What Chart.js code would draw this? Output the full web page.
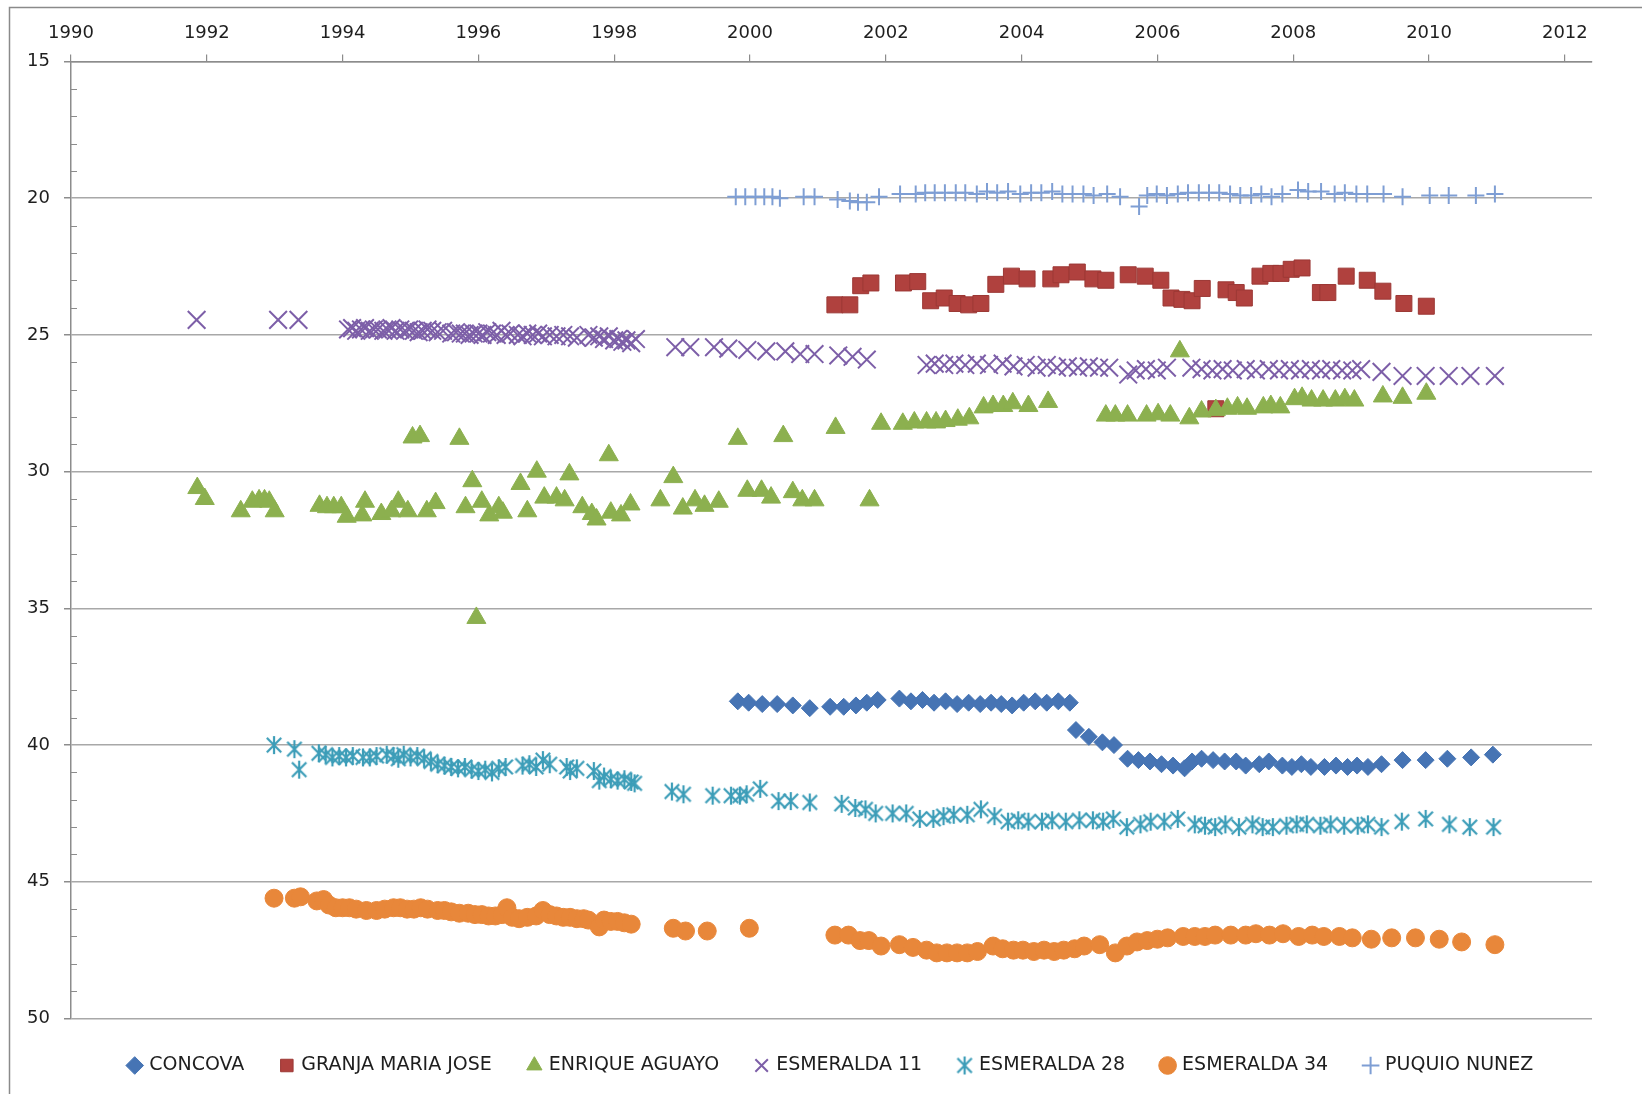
<!DOCTYPE html>
<html>
<head>
<meta charset="utf-8">
<title>Niveles de pozos</title>
<script src="https://cdn.jsdelivr.net/npm/chart.js@4.4.1/dist/chart.umd.min.js"></script>
<style>
  html, body { margin: 0; padding: 0; background: #fff; overflow: hidden; }
  canvas { display: block; }
</style>
</head>
<body>
<canvas id="levels" width="1642" height="1094"></canvas>
<script>
// [year, level] readings per well
const concova = [
  [1999.82, 38.4], [1999.98, 38.45], [2000.18, 38.5], [2000.4, 38.5], [2000.63, 38.55], [2000.88, 38.65],
  [2001.18, 38.6], [2001.38, 38.6], [2001.56, 38.55], [2001.72, 38.45], [2001.88, 38.35], [2002.2, 38.3],
  [2002.37, 38.4], [2002.54, 38.35], [2002.71, 38.45], [2002.88, 38.4], [2003.05, 38.5], [2003.22, 38.45],
  [2003.39, 38.5], [2003.55, 38.45], [2003.7, 38.5], [2003.86, 38.55], [2004.03, 38.45], [2004.2, 38.4],
  [2004.37, 38.45], [2004.54, 38.4], [2004.71, 38.45], [2004.8, 39.45], [2004.99, 39.7], [2005.19, 39.9],
  [2005.36, 40.0], [2005.56, 40.5], [2005.72, 40.55], [2005.89, 40.6], [2006.06, 40.7], [2006.23, 40.75],
  [2006.4, 40.85], [2006.51, 40.6], [2006.65, 40.5], [2006.82, 40.55], [2006.99, 40.6], [2007.16, 40.6],
  [2007.3, 40.75], [2007.5, 40.7], [2007.64, 40.6], [2007.84, 40.75], [2007.98, 40.8], [2008.12, 40.7],
  [2008.26, 40.8], [2008.46, 40.8], [2008.63, 40.75], [2008.8, 40.8], [2008.94, 40.75], [2009.1, 40.8],
  [2009.3, 40.7], [2009.61, 40.55], [2009.95, 40.55], [2010.27, 40.5], [2010.62, 40.45], [2010.94, 40.35]
];

const granjaMariaJose = [
  [2001.25, 23.9], [2001.47, 23.9], [2001.63, 23.2], [2001.78, 23.1], [2002.26, 23.1], [2002.47, 23.05],
  [2002.66, 23.75], [2002.86, 23.65], [2003.05, 23.85], [2003.22, 23.9], [2003.4, 23.85], [2003.62, 23.15],
  [2003.85, 22.85], [2004.08, 22.95], [2004.43, 22.95], [2004.58, 22.8], [2004.82, 22.7], [2005.05, 22.95],
  [2005.24, 23.0], [2005.57, 22.8], [2005.82, 22.85], [2006.05, 23.0], [2006.2, 23.65], [2006.36, 23.7],
  [2006.51, 23.75], [2006.66, 23.3], [2006.86, 27.7], [2007.01, 23.35], [2007.16, 23.45], [2007.28, 23.65],
  [2007.51, 22.85], [2007.67, 22.75], [2007.82, 22.75], [2007.97, 22.6], [2008.13, 22.55], [2008.4, 23.45],
  [2008.51, 23.45], [2008.78, 22.85], [2009.09, 23.0], [2009.32, 23.4], [2009.63, 23.85], [2009.96, 23.95]
];

const enriqueAguayo = [
  [1991.86, 30.6], [1991.97, 31.0], [1992.5, 31.45], [1992.67, 31.1], [1992.77, 31.05], [1992.85, 31.05],
  [1992.92, 31.1], [1993.0, 31.45], [1993.66, 31.25], [1993.77, 31.3], [1993.87, 31.3], [1993.98, 31.3],
  [1994.06, 31.65], [1994.29, 31.6], [1994.33, 31.1], [1994.57, 31.55], [1994.72, 31.45], [1994.82, 31.1],
  [1994.96, 31.45], [1995.03, 28.75], [1995.14, 28.7], [1995.24, 31.45], [1995.37, 31.15], [1995.72, 28.8],
  [1995.81, 31.3], [1995.91, 30.35], [1995.97, 35.35], [1996.05, 31.1], [1996.16, 31.6], [1996.3, 31.3],
  [1996.36, 31.5], [1996.62, 30.45], [1996.72, 31.45], [1996.86, 30.0], [1996.97, 30.95], [1997.15, 30.95],
  [1997.27, 31.05], [1997.34, 30.1], [1997.53, 31.3], [1997.67, 31.55], [1997.74, 31.75], [1997.92, 29.4],
  [1997.95, 31.5], [1998.1, 31.6], [1998.24, 31.2], [1998.68, 31.05], [1998.87, 30.2], [1999.01, 31.35],
  [1999.19, 31.05], [1999.33, 31.25], [1999.54, 31.1], [1999.82, 28.8], [1999.96, 30.7], [2000.17, 30.7],
  [2000.31, 30.95], [2000.49, 28.7], [2000.63, 30.75], [2000.77, 31.05], [2000.95, 31.05], [2001.26, 28.4],
  [2001.76, 31.05], [2001.93, 28.25], [2002.25, 28.25], [2002.42, 28.2], [2002.6, 28.2], [2002.74, 28.2],
  [2002.88, 28.15], [2003.06, 28.1], [2003.23, 28.05], [2003.44, 27.65], [2003.58, 27.6], [2003.73, 27.6],
  [2003.87, 27.5], [2004.1, 27.6], [2004.39, 27.45], [2005.24, 27.95], [2005.38, 27.95], [2005.56, 27.95],
  [2005.84, 27.95], [2006.01, 27.9], [2006.19, 27.95], [2006.33, 25.6], [2006.47, 28.05], [2006.65, 27.8],
  [2006.86, 27.75], [2007.03, 27.7], [2007.18, 27.65], [2007.32, 27.7], [2007.56, 27.65], [2007.67, 27.6],
  [2007.81, 27.65], [2008.02, 27.35], [2008.13, 27.3], [2008.27, 27.4], [2008.44, 27.4], [2008.62, 27.4],
  [2008.76, 27.35], [2008.9, 27.4], [2009.32, 27.25], [2009.61, 27.3], [2009.96, 27.15]
];

const esmeralda11 = [
  [1991.85, 24.45], [1993.05, 24.45], [1993.35, 24.45],
  [1994.08, 24.8], [1994.14, 24.75], [1994.2, 24.85], [1994.27, 24.8], [1994.33, 24.75], [1994.4, 24.85],
  [1994.46, 24.8], [1994.52, 24.8], [1994.6, 24.85], [1994.66, 24.8], [1994.72, 24.75], [1994.78, 24.85],
  [1994.85, 24.8], [1994.92, 24.85], [1994.98, 24.8], [1995.05, 24.85], [1995.12, 24.9], [1995.18, 24.85],
  [1995.25, 24.8], [1995.32, 24.85], [1995.4, 24.9], [1995.48, 24.85], [1995.6, 24.95], [1995.67, 24.9],
  [1995.74, 24.95], [1995.8, 24.95], [1995.87, 25.0], [1995.93, 24.95], [1996.0, 24.95], [1996.06, 25.0],
  [1996.13, 24.9], [1996.2, 24.95], [1996.27, 25.0], [1996.34, 24.85], [1996.4, 25.0], [1996.47, 24.95],
  [1996.58, 25.0], [1996.65, 25.05], [1996.72, 24.95], [1996.8, 25.0], [1996.88, 24.95], [1996.95, 25.05],
  [1997.05, 25.0], [1997.15, 25.05], [1997.25, 25.0], [1997.35, 25.05], [1997.45, 25.1], [1997.62, 25.0],
  [1997.7, 25.1], [1997.78, 25.05], [1997.85, 25.15], [1997.92, 25.05], [1998.0, 25.2], [1998.06, 25.15],
  [1998.12, 25.25], [1998.18, 25.2], [1998.25, 25.3], [1998.32, 25.15],
  [1998.9, 25.45], [1999.12, 25.45], [1999.47, 25.45], [1999.68, 25.5], [1999.96, 25.55], [2000.24, 25.6],
  [2000.52, 25.6], [2000.74, 25.7], [2000.95, 25.7], [2001.3, 25.75], [2001.51, 25.8], [2001.72, 25.9],
  [2002.6, 26.1], [2002.72, 26.05], [2002.86, 26.1], [2003.01, 26.05], [2003.17, 26.1], [2003.34, 26.05],
  [2003.52, 26.1], [2003.72, 26.05], [2003.88, 26.15], [2004.06, 26.1], [2004.22, 26.2], [2004.37, 26.1],
  [2004.52, 26.2], [2004.68, 26.15], [2004.83, 26.2], [2004.99, 26.15], [2005.14, 26.2], [2005.29, 26.2],
  [2005.57, 26.45], [2005.68, 26.3], [2005.83, 26.25], [2005.99, 26.3], [2006.14, 26.2], [2006.5, 26.2],
  [2006.65, 26.25], [2006.81, 26.3], [2006.96, 26.25], [2007.11, 26.3], [2007.3, 26.25], [2007.45, 26.3],
  [2007.64, 26.25], [2007.79, 26.3], [2007.95, 26.25], [2008.1, 26.3], [2008.26, 26.25], [2008.41, 26.3],
  [2008.56, 26.25], [2008.72, 26.3], [2008.87, 26.3], [2009.0, 26.25], [2009.3, 26.35], [2009.61, 26.5],
  [2009.95, 26.5], [2010.29, 26.5], [2010.61, 26.5], [2010.97, 26.5]
];

const esmeralda28 = [
  [1992.99, 40.0], [1993.29, 40.15], [1993.36, 40.9], [1993.65, 40.3], [1993.75, 40.35], [1993.85, 40.45],
  [1993.95, 40.4], [1994.05, 40.45], [1994.15, 40.4], [1994.3, 40.45], [1994.4, 40.45], [1994.5, 40.4],
  [1994.65, 40.35], [1994.75, 40.4], [1994.82, 40.5], [1994.9, 40.35], [1995.0, 40.45], [1995.1, 40.4],
  [1995.2, 40.5], [1995.3, 40.6], [1995.4, 40.7], [1995.5, 40.75], [1995.6, 40.8], [1995.7, 40.85],
  [1995.8, 40.8], [1995.9, 40.9], [1996.0, 40.95], [1996.1, 40.9], [1996.2, 41.0], [1996.3, 40.85],
  [1996.4, 40.8], [1996.65, 40.75], [1996.75, 40.7], [1996.85, 40.8], [1996.95, 40.55], [1997.05, 40.7],
  [1997.3, 40.8], [1997.35, 40.95], [1997.45, 40.85], [1997.7, 40.95], [1997.78, 41.3], [1997.85, 41.15],
  [1997.95, 41.25], [1998.05, 41.3], [1998.15, 41.25], [1998.25, 41.35], [1998.3, 41.4], [1998.85, 41.7],
  [1999.02, 41.8], [1999.45, 41.85], [1999.72, 41.85], [1999.85, 41.85], [1999.95, 41.8], [2000.15, 41.6],
  [2000.42, 42.05], [2000.6, 42.05], [2000.88, 42.1], [2001.35, 42.15], [2001.55, 42.3], [2001.7, 42.35],
  [2001.85, 42.5], [2002.1, 42.5], [2002.3, 42.5], [2002.5, 42.7], [2002.7, 42.7], [2002.85, 42.6],
  [2003.0, 42.55], [2003.2, 42.55], [2003.4, 42.35], [2003.6, 42.6], [2003.8, 42.8], [2003.95, 42.75],
  [2004.1, 42.8], [2004.3, 42.8], [2004.45, 42.75], [2004.65, 42.8], [2004.85, 42.75], [2005.05, 42.75],
  [2005.2, 42.8], [2005.35, 42.7], [2005.55, 43.0], [2005.75, 42.9], [2005.9, 42.8], [2006.1, 42.8],
  [2006.3, 42.7], [2006.55, 42.9], [2006.7, 42.95], [2006.85, 43.0], [2007.0, 42.9], [2007.2, 43.0],
  [2007.4, 42.9], [2007.55, 43.0], [2007.7, 43.0], [2007.9, 42.95], [2008.05, 42.9], [2008.2, 42.9],
  [2008.4, 42.95], [2008.55, 42.9], [2008.75, 42.95], [2008.95, 42.95], [2009.1, 42.9], [2009.3, 43.0],
  [2009.6, 42.8], [2009.95, 42.7], [2010.3, 42.9], [2010.6, 43.0], [2010.95, 43.0]
];

const esmeralda34 = [
  [1992.99, 45.6], [1993.29, 45.6], [1993.38, 45.55], [1993.62, 45.7], [1993.72, 45.65], [1993.8, 45.85],
  [1993.9, 45.95], [1994.0, 45.95], [1994.1, 45.95], [1994.2, 46.0], [1994.35, 46.05], [1994.5, 46.05],
  [1994.62, 46.0], [1994.75, 45.95], [1994.85, 45.95], [1994.95, 46.0], [1995.05, 46.0], [1995.15, 45.95],
  [1995.25, 46.0], [1995.4, 46.05], [1995.5, 46.05], [1995.6, 46.1], [1995.72, 46.15], [1995.85, 46.15],
  [1995.95, 46.2], [1996.05, 46.2], [1996.15, 46.25], [1996.25, 46.25], [1996.35, 46.2], [1996.42, 45.95],
  [1996.5, 46.3], [1996.6, 46.35], [1996.72, 46.3], [1996.85, 46.25], [1996.95, 46.05], [1997.05, 46.2],
  [1997.15, 46.25], [1997.25, 46.3], [1997.35, 46.3], [1997.45, 46.35], [1997.55, 46.35], [1997.62, 46.4],
  [1997.78, 46.65], [1997.85, 46.4], [1997.95, 46.45], [1998.05, 46.45], [1998.15, 46.5], [1998.25, 46.55],
  [1998.87, 46.7], [1999.05, 46.8], [1999.37, 46.8], [1999.99, 46.7], [2001.25, 46.95], [2001.45, 46.95],
  [2001.62, 47.15], [2001.75, 47.15], [2001.93, 47.35], [2002.2, 47.3], [2002.4, 47.4], [2002.6, 47.5],
  [2002.75, 47.6], [2002.9, 47.6], [2003.05, 47.6], [2003.2, 47.6], [2003.35, 47.55], [2003.58, 47.35],
  [2003.72, 47.45], [2003.88, 47.5], [2004.02, 47.5], [2004.18, 47.55], [2004.33, 47.5], [2004.48, 47.55],
  [2004.62, 47.5], [2004.78, 47.45], [2004.92, 47.35], [2005.15, 47.3], [2005.38, 47.6], [2005.55, 47.35],
  [2005.7, 47.2], [2005.85, 47.15], [2006.0, 47.1], [2006.15, 47.05], [2006.38, 47.0], [2006.55, 47.0],
  [2006.7, 47.0], [2006.85, 46.95], [2007.08, 46.95], [2007.3, 46.95], [2007.45, 46.9], [2007.65, 46.95],
  [2007.85, 46.9], [2008.08, 47.0], [2008.28, 46.95], [2008.45, 47.0], [2008.68, 47.0], [2008.87, 47.05],
  [2009.15, 47.1], [2009.45, 47.05], [2009.8, 47.05], [2010.15, 47.1], [2010.48, 47.2], [2010.97, 47.3]
];

const puquioNunez = [
  [1999.79, 19.95], [1999.93, 19.95], [2000.08, 19.95], [2000.21, 19.95], [2000.33, 19.95], [2000.44, 20.0],
  [2000.79, 19.95], [2000.95, 19.95], [2001.29, 20.05], [2001.47, 20.1], [2001.59, 20.15], [2001.72, 20.15],
  [2001.9, 19.95], [2002.21, 19.85], [2002.44, 19.85], [2002.58, 19.8], [2002.72, 19.8], [2002.87, 19.8],
  [2003.03, 19.8], [2003.17, 19.8], [2003.34, 19.85], [2003.49, 19.75], [2003.64, 19.8], [2003.8, 19.75],
  [2003.98, 19.85], [2004.14, 19.8], [2004.29, 19.8], [2004.45, 19.75], [2004.6, 19.85], [2004.75, 19.85],
  [2004.91, 19.85], [2005.06, 19.9], [2005.26, 19.85], [2005.45, 19.95], [2005.73, 20.3], [2005.85, 19.9],
  [2005.99, 19.85], [2006.14, 19.9], [2006.3, 19.85], [2006.45, 19.8], [2006.61, 19.8], [2006.76, 19.8],
  [2006.91, 19.8], [2007.07, 19.85], [2007.22, 19.9], [2007.38, 19.9], [2007.53, 19.85], [2007.68, 19.95],
  [2007.84, 19.85], [2008.07, 19.7], [2008.22, 19.75], [2008.41, 19.75], [2008.61, 19.85], [2008.76, 19.8],
  [2008.93, 19.85], [2009.09, 19.85], [2009.33, 19.85], [2009.61, 19.95], [2010.01, 19.9], [2010.29, 19.9],
  [2010.69, 19.9], [2010.97, 19.85]
];

const wellNames = ['CONCOVA', 'GRANJA MARIA JOSE', 'ENRIQUE AGUAYO', 'ESMERALDA 11', 'ESMERALDA 28', 'ESMERALDA 34', 'PUQUIO NUNEZ'];
const yearTicks = [1990, 1992, 1994, 1996, 1998, 2000, 2002, 2004, 2006, 2008, 2010, 2012];
const levelTicks = [15, 20, 25, 30, 35, 40, 45, 50];

const FONT = "'DejaVu Sans', 'Liberation Sans', sans-serif";
const AXIS_GRAY = '#8c8c8c';

// six-spoke asterisk marker (vertical bar + X)
function asterisk(size, color, lw) {
  const c = document.createElement('canvas');
  c.width = c.height = size;
  const g = c.getContext('2d');
  const m = size / 2, r = size / 2 - 1, d = r * 0.8;
  g.strokeStyle = color;
  g.lineWidth = lw;
  g.beginPath();
  g.moveTo(m, m - r); g.lineTo(m, m + r);
  g.moveTo(m - d, m - d); g.lineTo(m + d, m + d);
  g.moveTo(m + d, m - d); g.lineTo(m - d, m + d);
  g.stroke();
  return c;
}

const styles = [
  { pointStyle: 'rectRot', pointRadius: 8.5, backgroundColor: '#4674b4', borderColor: '#4674b4', borderWidth: 1 },
  { pointStyle: 'rect', pointRadius: 11.3, backgroundColor: '#b0413e', borderColor: '#9c3835', borderWidth: 1 },
  { pointStyle: 'triangle', pointRadius: 11, backgroundColor: '#8cb04f', borderColor: '#8cb04f', borderWidth: 1 },
  { pointStyle: 'crossRot', pointRadius: 12.5, backgroundColor: '#7d5fa8', borderColor: '#7d5fa8', borderWidth: 2 },
  { pointStyle: asterisk(20, '#3c9db8', 2.2), pointRadius: 10, backgroundColor: '#3c9db8', borderColor: '#3c9db8', borderWidth: 2 },
  { pointStyle: 'circle', pointRadius: 9, backgroundColor: '#e8873a', borderColor: '#e8873a', borderWidth: 1 },
  { pointStyle: 'cross', pointRadius: 8.5, backgroundColor: '#7e9ed4', borderColor: '#7e9ed4', borderWidth: 2 }
];

const series = [concova, granjaMariaJose, enriqueAguayo, esmeralda11, esmeralda28, esmeralda34, puquioNunez];

const datasets = series.map((pts, i) => ({
  label: wellNames[i],
  data: pts.map(([x, y]) => ({ x, y })),
  order: -i, // later wells paint over earlier ones
  pointHoverRadius: styles[i].pointRadius,
  ...styles[i]
}));

// outer frame plus the small inside ticks on the level axis
const frameAndMinorTicks = {
  id: 'frameAndMinorTicks',
  beforeDraw(chart) {
    const { ctx } = chart;
    ctx.save();
    ctx.strokeStyle = '#8a8a8a';
    ctx.lineWidth = 1.5;
    ctx.strokeRect(9.5, 7.5, chart.width + 40, chart.height + 40);
    ctx.restore();
  },
  beforeDatasetsDraw(chart) {
    const { ctx, scales: { y }, chartArea } = chart;
    ctx.save();
    ctx.strokeStyle = AXIS_GRAY;
    ctx.lineWidth = 1.2;
    ctx.beginPath();
    for (let v = y.min + 1; v < y.max; v++) {
      if (v % 5 === 0) continue;
      const py = Math.round(y.getPixelForValue(v)) + 0.5;
      ctx.moveTo(chartArea.left, py);
      ctx.lineTo(chartArea.left + 6, py);
    }
    ctx.stroke();
    ctx.restore();
  }
};

new Chart(document.getElementById('levels'), {
  type: 'scatter',
  data: { datasets },
  plugins: [frameAndMinorTicks],
  options: {
    responsive: false,
    animation: false,
    devicePixelRatio: 1,
    layout: { padding: { top: 0, left: 0, right: 50, bottom: 9 } },
    plugins: {
      tooltip: { enabled: false },
      legend: {
        position: 'bottom',
        fullSize: false,
        labels: {
          usePointStyle: true,
          boxWidth: 10,
          boxHeight: 12.5,
          padding: 37.5,
          color: '#1e1e1e',
          font: { family: FONT, size: 19 },
          sort: (a, b) => a.datasetIndex - b.datasetIndex
        }
      }
    },
    scales: {
      x: {
        type: 'linear',
        position: 'top',
        min: 1990,
        max: 2012.4,
        afterBuildTicks: (s) => { s.ticks = yearTicks.map((v) => ({ value: v })); },
        afterFit: (s) => { s.height = 61.5; },
        ticks: {
          color: '#1e1e1e',
          padding: 10,
          font: { family: FONT, size: 18 },
          maxRotation: 0,
          callback: (v) => String(v)
        },
        grid: { drawOnChartArea: false, tickLength: 7, color: AXIS_GRAY, lineWidth: 1.2 },
        border: { color: AXIS_GRAY, width: 1.5 }
      },
      y: {
        type: 'linear',
        reverse: true,
        min: 15,
        max: 50,
        afterBuildTicks: (s) => { s.ticks = levelTicks.map((v) => ({ value: v })); },
        afterFit: (s) => { s.width = 71; },
        ticks: { color: '#1e1e1e', padding: 14, font: { family: FONT, size: 18 }, callback: (v) => String(v) },
        grid: { color: '#a8a8a8', lineWidth: 1.5, tickLength: 7, tickColor: AXIS_GRAY },
        border: { color: AXIS_GRAY, width: 1.5 }
      }
    }
  }
});
</script>
</body>
</html>
